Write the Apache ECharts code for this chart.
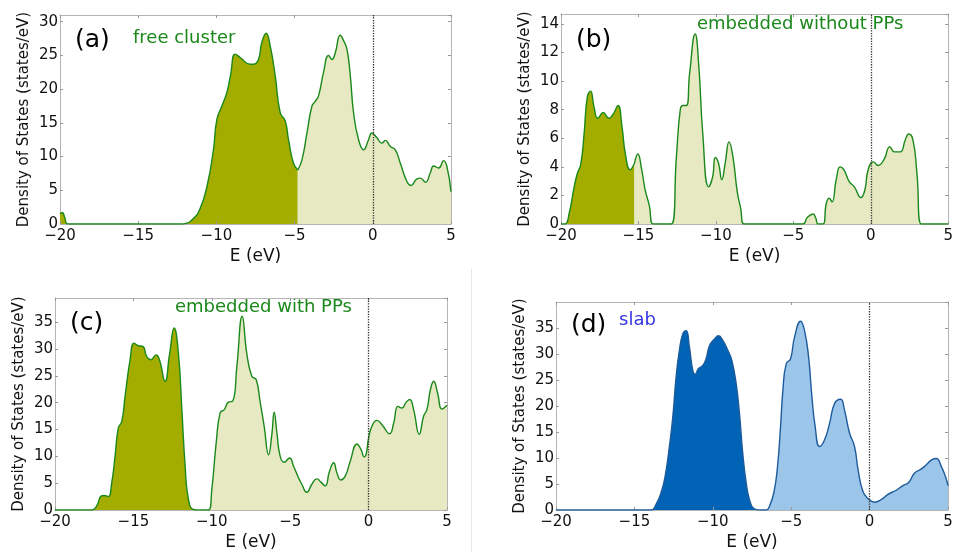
<!DOCTYPE html>
<html>
<head>
<meta charset="utf-8">
<script src="https://cdn.jsdelivr.net/npm/echarts@6.0.0/dist/echarts.min.js"></script>
<style>
  html, body { margin: 0; padding: 0; background: #fff; }
  #main { width: 956px; height: 552px; }
</style>
</head>
<body>
<div id="main"></div>
<script>
// DOS curves, [E (eV), states/eV]
var aOcc = [[-20,1.5],[-19.85,1.7],[-19.7,1.0],[-19.5,0],[-12.2,0],[-12.0,0.05],[-11.47,0.8],[-11.04,2.3],[-10.6,5.6],[-10.19,11],[-9.97,15.5],[-9.65,17.5],[-9.33,19.5],[-9.1,22],[-8.8,25.2],[-8.48,24.7],[-7.84,23.7],[-7.63,23.7],[-7.31,24.4],[-7.1,26.9],[-6.82,28.3],[-6.56,26.4],[-6.24,22],[-5.92,16.5],[-5.6,15.3],[-5.39,12.5],[-5.07,9],[-4.8,8.0]];
var aUnocc = [[-4.8,8.0],[-4.53,9.5],[-4.21,13.5],[-3.89,17.5],[-3.68,18.2],[-3.47,19],[-3.15,22.5],[-2.83,25],[-2.61,24.4],[-2.4,25.4],[-2.08,28],[-1.87,27.2],[-1.65,25.9],[-1.44,22],[-1.23,16.5],[-0.91,12.5],[-0.59,11],[-0.27,12.5],[-0.06,13.5],[0.26,12.8],[0.58,12],[0.8,12.4],[1.12,11.5],[1.44,11],[1.76,9],[2.18,6.3],[2.44,5.7],[2.82,6.7],[3.04,6.8],[3.36,6.2],[3.68,7.6],[3.89,8.6],[4.21,8.3],[4.53,9.4],[4.74,8.5],[5.0,4.8]];

var bOcc = [[-20,0],[-19.74,0],[-19.47,0.75],[-19.15,2.6],[-18.94,3.55],[-18.72,4.2],[-18.51,6.3],[-18.3,8.9],[-18.09,9.3],[-17.87,8.2],[-17.62,7.4],[-17.28,7.8],[-16.91,7.4],[-16.6,7.75],[-16.32,8.3],[-16.06,6.8],[-15.85,4.95],[-15.53,3.8],[-15.26,4.25]];
var bUnocc = [[-15.26,4.25],[-15.04,4.9],[-14.79,3.8],[-14.57,2.4],[-14.3,1.3],[-14.04,0],[-12.87,0],[-12.55,4.7],[-12.3,8.0],[-12.13,8.3],[-11.9,8.3],[-11.7,10.5],[-11.34,13.3],[-11.1,11],[-10.85,6.35],[-10.47,2.6],[-10.21,3.3],[-10.04,4.65],[-9.83,4.25],[-9.62,3.1],[-9.4,4.25],[-9.15,5.75],[-8.9,4.7],[-8.62,2.25],[-8.4,1.1],[-8.19,0],[-4.4,0],[-4.1,0.45],[-3.72,0.7],[-3.55,0.4],[-3.4,0],[-3.09,0],[-2.87,1.45],[-2.68,1.8],[-2.5,1.55],[-2.23,3.1],[-1.98,4.0],[-1.74,3.8],[-1.38,2.95],[-1.06,2.6],[-0.64,1.85],[-0.38,2.4],[-0.17,3.8],[0.17,4.35],[0.47,4.1],[0.85,4.5],[1.23,5.4],[1.53,5.05],[1.91,5.05],[2.23,5.9],[2.45,6.3],[2.72,5.9],[2.98,3.55],[3.26,0],[5,0]];

var cOcc = [[-20,0],[-17.66,0],[-17.34,0.75],[-17.06,2.6],[-16.87,2.7],[-16.6,2.5],[-16.38,5.1],[-16.17,10],[-15.96,15.3],[-15.74,16.5],[-15.53,21.2],[-15.21,28],[-14.96,31.1],[-14.68,30.6],[-14.4,30.5],[-14.15,28.6],[-13.89,28],[-13.55,28.9],[-13.34,28],[-12.98,24],[-12.7,28.9],[-12.4,33.9],[-12.13,29.2],[-11.91,18.7],[-11.7,8.2],[-11.49,2],[-11.17,0.1],[-10.8,0]];
var cUnocc = [[-10.8,0],[-10.21,0],[-10.0,3.8],[-9.72,12.5],[-9.47,18.1],[-9.21,18.7],[-8.94,20.1],[-8.66,20.3],[-8.4,26.8],[-8.06,36.1],[-7.77,29.2],[-7.45,24.9],[-7.17,24.3],[-6.91,20],[-6.66,15.6],[-6.38,10.3],[-6.17,14.1],[-6.02,18.2],[-5.85,14.4],[-5.64,10],[-5.38,8.9],[-5.04,9.7],[-4.79,8.2],[-4.47,6],[-4.26,4.8],[-3.94,3.3],[-3.62,4.8],[-3.3,5.8],[-3.04,5.2],[-2.77,4.5],[-2.49,7.25],[-2.23,8.8],[-2.02,6.9],[-1.77,5.6],[-1.49,6.3],[-1.17,9.1],[-0.74,12.3],[-0.49,11.3],[-0.28,9.9],[-0.15,10.5],[0,13.4],[0.21,15.6],[0.53,16.7],[0.85,15.9],[1.34,14.2],[1.6,16.2],[1.87,19.3],[2.13,19],[2.4,20.1],[2.62,20.6],[2.87,18.7],[3.23,14.1],[3.51,17.5],[3.72,18.7],[3.94,22.4],[4.15,24],[4.4,21.8],[4.68,18.8],[5,19.5]];

var dOcc = [[-20,0],[-13.94,0],[-13.62,1.1],[-13.3,3.3],[-13.04,6.5],[-12.77,12.2],[-12.55,17.9],[-12.34,25.6],[-12.13,30.7],[-11.91,33.9],[-11.7,34.5],[-11.49,31.3],[-11.28,26.9],[-11.13,26.1],[-10.91,27.2],[-10.64,27.8],[-10.43,29.1],[-10.21,31.6],[-9.89,32.9],[-9.64,33.5],[-9.36,32.6],[-9.04,30.7],[-8.79,28.8],[-8.51,24.3],[-8.3,18.6],[-8.09,10.9],[-7.87,5.2],[-7.66,2],[-7.38,0.25],[-7.0,0]];
var dUnocc = [[-7.0,0],[-6.6,0],[-6.38,0.75],[-6.11,3.3],[-5.89,7.8],[-5.68,16],[-5.53,23],[-5.32,28.1],[-5.04,29.1],[-4.79,33.2],[-4.4,36.3],[-4.15,34.5],[-3.89,29.4],[-3.68,21.8],[-3.47,16],[-3.19,12.2],[-2.87,13.5],[-2.55,16.7],[-2.23,20.5],[-1.85,21.3],[-1.6,19.2],[-1.28,14.8],[-0.96,12.2],[-0.74,7.8],[-0.43,3.6],[-0.11,2.2],[0.32,1.5],[0.74,2],[1.17,3],[1.7,3.8],[2.13,4.7],[2.49,5.3],[2.87,7.1],[3.26,7.8],[3.62,8.7],[3.98,9.7],[4.26,9.9],[4.57,8.4],[4.83,6.5],[5,4.7]];

var panelTags = ['(a)', '(b)', '(c)', '(d)'];
var panelNotes = ['free cluster', 'embedded without PPs', 'embedded with PPs', 'slab'];
var yMax = [31, 14.7, 39.5, 40];
var yStep = [5, 2, 5, 5];

var myChart = echarts.init(document.getElementById('main'));

var FONT = 'DejaVu Sans';
var frame = '#b5b5b5';
var green = ['#a3ad00', '#e6e9c2', '#1a881a'];
var blue = ['#0063b6', '#9cc6e9', '#1d5b9c'];

var panels = [
  {occ: aOcc, un: aUnocc, box: [60, 15, 391, 209], col: green, noteCol: '#1a881a', tag: [75, 43], note: [133, 40]},
  {occ: bOcc, un: bUnocc, box: [561, 14, 391, 210], col: green, noteCol: '#1a881a', tag: [576, 43], note: [697, 26]},
  {occ: cOcc, un: cUnocc, box: [55, 298, 392, 213], col: green, noteCol: '#1a881a', tag: [70, 326], note: [175, 309]},
  {occ: dOcc, un: dUnocc, box: [556, 302, 392, 209], col: blue, noteCol: '#3535e0', tag: [571, 328], note: [619, 322]}
];

function minus(v) {
  return v < 0 ? '\u2212' + (-v) : '' + v;
}

var grids = [], xAxes = [], yAxes = [], series = [], texts = [];

panels.forEach(function (p, i) {
  grids.push({left: p.box[0], top: p.box[1], width: p.box[2], height: p.box[3], containLabel: false});
  var tick = {show: true, inside: true, length: 3, lineStyle: {color: '#999'}};
  var line = {show: true, onZero: false, lineStyle: {color: frame, width: 1}};
  xAxes.push({
    gridIndex: i, type: 'value', min: -20, max: 5, interval: 5, position: 'bottom',
    z: i == 2 ? 0 : 3,
    axisLine: line, axisTick: tick, splitLine: {show: false},
    axisLabel: {color: '#111', fontFamily: FONT, fontSize: 15, margin: 5, formatter: minus},
    name: 'E (eV)', nameLocation: 'middle', nameGap: 24,
    nameTextStyle: {color: '#111', fontFamily: FONT, fontSize: 17}
  });
  xAxes.push({
    gridIndex: i, type: 'value', min: -20, max: 5, interval: 5, position: 'top',
    axisLine: line, axisTick: tick, axisLabel: {show: false}, splitLine: {show: false}
  });
  yAxes.push({
    gridIndex: i, type: 'value', min: 0, max: yMax[i], interval: yStep[i], position: 'left',
    axisLine: line, axisTick: tick, splitLine: {show: false},
    axisLabel: {color: '#111', fontFamily: FONT, fontSize: 15, margin: 2, showMaxLabel: false},
    name: 'Density of States (states/eV)', nameLocation: 'middle', nameGap: 28,
    nameTextStyle: {color: '#111', fontFamily: FONT, fontSize: 15}
  });
  yAxes.push({
    gridIndex: i, type: 'value', min: 0, max: yMax[i], interval: yStep[i], position: 'right',
    axisLine: line, axisTick: tick, axisLabel: {show: false}, splitLine: {show: false}
  });

  [[p.occ, p.col[0]], [p.un, p.col[1]]].forEach(function (part, k) {
    var s = {
      type: 'line', xAxisIndex: 2 * i, yAxisIndex: 2 * i,
      data: part[0], smooth: 0.5, showSymbol: false, silent: true,
      lineStyle: {color: p.col[2], width: 1.4},
      areaStyle: {color: part[1], opacity: 1}
    };
    if (k == 1) {
      s.markLine = {
        silent: true, symbol: 'none', label: {show: false},
        lineStyle: {color: '#333', type: 'dotted', width: 1.3},
        data: [{xAxis: 0}]
      };
    }
    series.push(s);
  });

  texts.push({type: 'text', left: p.tag[0], top: p.tag[1] - 15,
    style: {text: panelTags[i], fontFamily: FONT, fontSize: 25, fill: '#000'}});
  texts.push({type: 'text', left: p.note[0], top: p.note[1] - 11,
    style: {text: panelNotes[i], fontFamily: FONT, fontSize: 18, fill: p.noteCol}});
});

// thin divider between the lower panels
texts.push({type: 'line', shape: {x1: 471.5, y1: 269, x2: 471.5, y2: 552},
  style: {stroke: '#e6e6e6', lineWidth: 1}});

var option = {
  animation: false,
  backgroundColor: '#fff',
  grid: grids,
  xAxis: xAxes,
  yAxis: yAxes,
  series: series,
  graphic: texts
};

myChart.setOption(option);

window.onresize = function () {
  myChart.resize();
};
</script>
</body>
</html>
